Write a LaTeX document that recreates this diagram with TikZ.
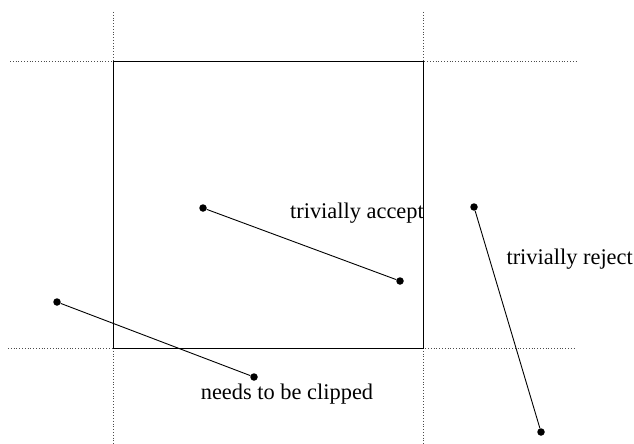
\documentclass[tikz,border=0pt]{standalone}
\usepackage{fontspec}
\setmainfont{Liberation Serif}
\begin{document}
\begin{tikzpicture}[x=1pt,y=-1pt,
  guide/.style={dotted,line width=0.8pt,gray!60!black},
  seg/.style={line width=0.9pt},
  endpt/.style={circle,fill,inner sep=0pt,minimum size=7.5pt},
  lbl/.style={font=\fontsize{22.4}{26}\selectfont,inner sep=0pt}]
\useasboundingbox (0,0) rectangle (634,444);
% guide lines
\coordinate (vl1) at (113,12); \coordinate (vl2) at (113,444);
\coordinate (vr1) at (423,12); \coordinate (vr2) at (423,444);
\coordinate (ht1) at (10,61);  \coordinate (ht2) at (577,61);
\coordinate (hb1) at (8,348);  \coordinate (hb2) at (574,348);
\draw[guide] (vl1) -- (vl2);
\draw[guide] (vr1) -- (vr2);
\draw[guide] (ht1) -- (ht2);
\draw[guide] (hb1) -- (hb2);
% clip window
\draw[line width=0.9pt] (113,61) rectangle (423,348);
% segments
\node[endpt] (a1) at (203,208) {};
\node[endpt] (a2) at (400,281) {};
\draw[seg] (a1) -- (a2);
\node[endpt] (c1) at (57,302) {};
\node[endpt] (c2) at (254,377) {};
\draw[seg] (c1) -- (c2);
\node[endpt] (r1) at (474,207) {};
\node[endpt] (r2) at (541,432) {};
\draw[seg] (r1) -- (r2);
% labels
\node[lbl,anchor=base east] (la) at (424,218) {trivially accept};
\node[lbl,anchor=base east] (lr) at (633,264) {trivially reject};
\node[lbl,anchor=base] (lc) at (287,399) {needs to be clipped};
\end{tikzpicture}
\end{document}
